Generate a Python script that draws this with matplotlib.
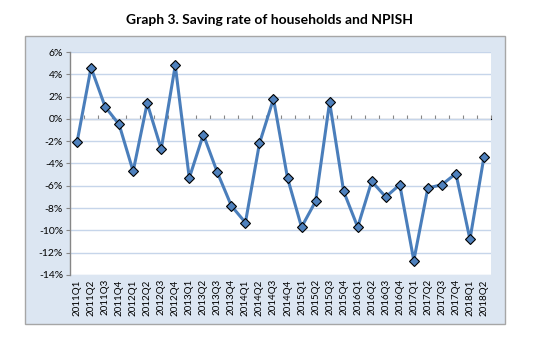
import matplotlib
matplotlib.use("Agg")
import matplotlib.pyplot as plt
from matplotlib.patches import Rectangle
from matplotlib.ticker import FuncFormatter, FixedLocator

# --- datos ---
trimestres = [
    "2011Q1", "2011Q2", "2011Q3", "2011Q4",
    "2012Q1", "2012Q2", "2012Q3", "2012Q4",
    "2013Q1", "2013Q2", "2013Q3", "2013Q4",
    "2014Q1", "2014Q2", "2014Q3", "2014Q4",
    "2015Q1", "2015Q2", "2015Q3", "2015Q4",
    "2016Q1", "2016Q2", "2016Q3", "2016Q4",
    "2017Q1", "2017Q2", "2017Q3", "2017Q4",
    "2018Q1", "2018Q2",
]
tasa_ahorro = [
    -2.1, 4.6, 1.1, -0.5,
    -4.7, 1.4, -2.7, 4.8,
    -5.3, -1.4, -4.8, -7.8,
    -9.3, -2.2, 1.8, -5.3,
    -9.7, -7.4, 1.5, -6.5,
    -9.7, -5.6, -7.0, -5.9,
    -12.7, -6.2, -5.9, -4.9,
    -10.8, -3.4,
]
y_ticks = [6, 4, 2, 0, -2, -4, -6, -8, -10, -12, -14]

plt.rcParams['font.family'] = ['Lato', 'DejaVu Sans']

fig = plt.figure(figsize=(5.39, 3.45), dpi=100)

# fondo del grafico (caja celeste con borde gris)
fondo = Rectangle((25 / 539, 21 / 345), 480 / 539, 288 / 345,
                  transform=fig.transFigure, facecolor='#dce6f2',
                  edgecolor='#a6a6a6', linewidth=1.0, zorder=-10)
fig.patches.append(fondo)

fig.text(0.5, 1 - 20 / 345, 'Graph 3. Saving rate of households and NPISH',
         ha='center', va='center', fontsize=10, fontweight='bold')

ax = fig.add_axes([70 / 539, 70 / 345, 421 / 539, 223 / 345])
ax.set_facecolor('white')

x = list(range(len(trimestres)))
ax.plot(x, tasa_ahorro, color='#4a7ebb', linewidth=2.2, marker='D',
        markersize=5, markerfacecolor='#4f81bd', markeredgecolor='black',
        markeredgewidth=0.8, zorder=3)

ax.set_xlim(-0.5, len(trimestres) - 0.5)
ax.set_ylim(min(y_ticks), max(y_ticks))

# eje y
ax.set_yticks(y_ticks)
ax.yaxis.set_major_formatter(FuncFormatter(lambda v, p: f"{v:.0f}%"))
ax.tick_params(axis='y', labelsize=7.5, length=3, color='#868686', pad=2)
ax.grid(axis='y', color='#c6d5ea', linewidth=1.0, zorder=0)
ax.set_axisbelow(True)

# etiquetas del eje x abajo
ax.set_xticks(x)
ax.set_xticklabels(trimestres, rotation=90, fontsize=7)
ax.tick_params(axis='x', length=0, pad=3)

for lado in ['top', 'right', 'bottom']:
    ax.spines[lado].set_visible(False)
ax.spines['left'].set_color('#868686')
ax.spines['left'].set_linewidth(1.0)

# eje de categorias en cero con marcas entre categorias
pos_cero = (0 - min(y_ticks)) / (max(y_ticks) - min(y_ticks))
eje_cero = ax.secondary_xaxis(pos_cero)
eje_cero.xaxis.set_major_locator(FixedLocator([i - 0.5 for i in range(len(trimestres) + 1)]))
eje_cero.set_xticklabels([])
eje_cero.tick_params(axis='x', direction='out', length=3, color='#868686')
eje_cero.spines['bottom'].set_color('#868686')
eje_cero.spines['bottom'].set_linewidth(1.0)

fig.savefig('out.png', dpi=100)
